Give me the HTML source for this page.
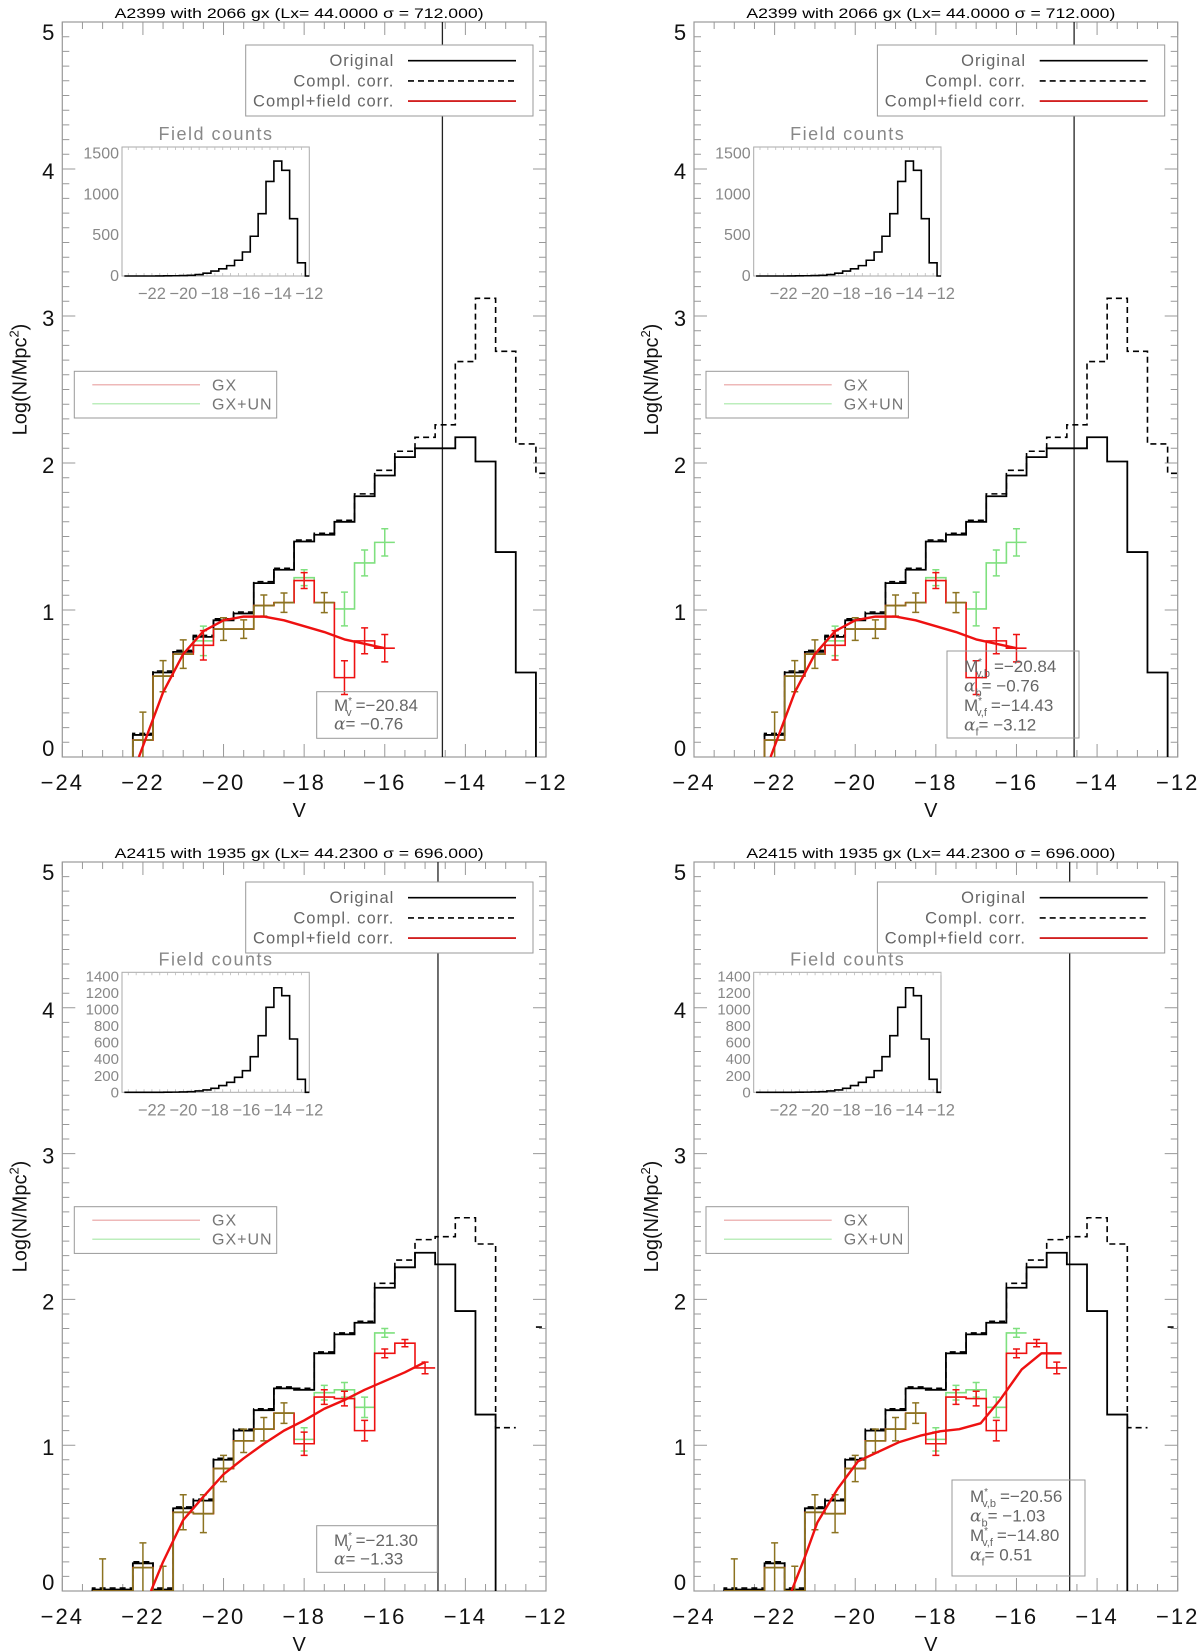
<!DOCTYPE html>
<html><head><meta charset="utf-8"><title>Luminosity functions A2399 / A2415</title>
<style>
html,body{margin:0;padding:0;background:#fff;}
svg{display:block;font-family:"Liberation Sans",sans-serif;}
</style></head>
<body>
<svg id="fig" width="1200" height="1652" viewBox="0 0 1200 1652" xmlns="http://www.w3.org/2000/svg">
<rect x="0" y="0" width="1200" height="1652" fill="#fff"/>
</svg>
<script>
// ---------- DATA ----------
// Top panels (A2399)
const topCenters = [-22,-21.5,-21,-20.5,-20,-19.5,-19,-18.5,-18,-17.5,-17,-16.5,-16,-15.5,-15,-14.5,-14,-13.5,-13,-12.5];
const topOriginal = [0.15,0.575,0.715,0.817,0.93,0.976,1.183,1.274,1.466,1.512,1.6,1.774,1.915,2.04,2.1,2.1,2.175,2.01,1.394,0.575];
const topDashCenters = [-22,-21.5,-21,-20.5,-20,-19.5,-19,-18.5,-18,-17.5,-17,-16.5,-16,-15.5,-15,-14.5,-14,-13.5,-13,-12.5,-12];
const topCompl = [0.16,0.585,0.725,0.827,0.94,0.986,1.193,1.284,1.476,1.522,1.61,1.79,1.95,2.08,2.175,2.26,2.69,3.12,2.76,2.13,1.93];
const topFieldCenters = [-22,-21.5,-21,-20.5,-20,-19.5,-19,-18.5,-18,-17.5,-17,-16.5,-16];
const topGX = [0.115,0.55,0.70,0.76,0.87,0.87,1.03,1.05,1.20,1.05,0.54,0.79,0.74];
const topGXUN = [0.115,0.55,0.70,0.79,0.87,0.87,1.03,1.05,1.22,1.05,1.007,1.32,1.46];
const topErr = [0.19,0.106,0.097,0.10,0.077,0.063,0.072,0.066,0.054,0.068,0.115,0.088,0.093];
const tlFitV = [-22.1,-21.5,-21,-20.5,-20,-19.5,-19,-18.5,-18,-17.5,-17,-16.5,-16];
const tlFitY = [0,0.44,0.70,0.856,0.93,0.955,0.955,0.93,0.89,0.85,0.80,0.77,0.74];
const trFitV = [-22.1,-21.5,-21,-20.5,-20,-19.5,-19,-18.5,-18,-17.5,-17,-16.5,-16];
const trFitY = [0,0.44,0.70,0.856,0.93,0.955,0.955,0.93,0.89,0.85,0.80,0.77,0.74];
// Bottom panels (A2415)
const botCenters = [-23,-22.5,-22,-21.5,-21,-20.5,-20,-19.5,-19,-18.5,-18,-17.5,-17,-16.5,-16,-15.5,-15,-14.5,-14,-13.5];
const botOriginal = [0.01,0.01,0.19,0.01,0.567,0.62,0.90,1.10,1.24,1.39,1.38,1.63,1.76,1.84,2.08,2.22,2.32,2.24,1.92,1.21];
const botDashCenters = [-23,-22.5,-22,-21.5,-21,-20.5,-20,-19.5,-19,-18.5,-18,-17.5,-17,-16.5,-16,-15.5,-15,-14.5,-14,-13.5,-13,-12.5,-12];
const botCompl = [0.02,0.02,0.20,0.02,0.577,0.63,0.91,1.11,1.25,1.40,1.39,1.64,1.77,1.85,2.11,2.27,2.41,2.43,2.56,2.38,1.12,null,1.81];
const botFieldCenters = [-23,-22.5,-22,-21.5,-21,-20.5,-20,-19.5,-19,-18.5,-18,-17.5,-17,-16.5,-16,-15.5,-15];
const botGX = [0,0,0.16,0,0.54,0.53,0.84,1.03,1.11,1.22,1.01,1.33,1.32,1.10,1.63,1.70,1.53];
const botGXUN = [0,0,0.16,0,0.54,0.53,0.84,1.03,1.11,1.22,1.04,1.36,1.38,1.26,1.77,null,null];
const botErr = [0.22,0.0,0.17,0.17,0.12,0.13,0.09,0.08,0.08,0.07,0.08,0.05,0.05,0.07,0.03,0.025,0.04];
const blFitV = [-21.8,-21.5,-21,-20.5,-20,-19.5,-19,-18.5,-18,-17.5,-17,-16.5,-16,-15.5,-15];
const blFitY = [0,0.2,0.487,0.647,0.80,0.91,1.01,1.10,1.17,1.25,1.31,1.38,1.44,1.50,1.57];
const brFitV = [-21.58,-21.24,-20.94,-20.44,-19.93,-19.44,-18.92,-18.39,-17.90,-17.42,-16.89,-16.41,-15.87,-15.38,-14.88];
const brFitY = [0,0.24,0.47,0.70,0.89,0.953,1.02,1.065,1.095,1.11,1.15,1.31,1.52,1.63,1.63];
// Field-count insets
const insetCenters = [-23.5,-23,-22.5,-22,-21.5,-21,-20.5,-20,-19.5,-19,-18.5,-18,-17.5,-17,-16.5,-16,-15.5,-15,-14.5,-14,-13.5,-13,-12.5,-12];
const topFieldCounts = [0,0,0,0,1,2,3,5,9,18,35,61,88,127,193,294,487,763,1158,1408,1294,702,162,0];
const botFieldCounts = [0,0,0,0,0,1,2,4,8,16,28,48,81,121,181,262,431,685,1028,1265,1169,645,157,0];
const topInsetTicks = [0,500,1000,1500];
const botInsetTicks = [0,200,400,600,800,1000,1200,1400];
const insetXTicks = [-22,-20,-18,-16,-14,-12];
const xTickLabels = [-24,-22,-20,-18,-16,-14,-12];
const yTickLabels = [0,1,2,3,4,5];

// ---------- DRAWING ----------
const NS = "http://www.w3.org/2000/svg";
const svg = document.getElementById('fig');
function mk(tag, attrs, parent){
  const e = document.createElementNS(NS, tag);
  for (const k in attrs) e.setAttribute(k, attrs[k]);
  (parent||svg).appendChild(e);
  return e;
}
const RED = "#ee1111", GREEN = "#7fe07f", BROWN = "#8c7321";
function isNum(v){ return v !== null && v !== undefined; }

function makeScales(p){
  p.sx = v => p.x0 + (v + 24) / 12 * (p.x1 - p.x0);
  p.sy = y => p.yB - y / 5 * (p.yB - p.yT);
}
function stepD(p, centers, vals, startZero, endZero){
  let d = '', pen = false, lastR = null;
  for (let i = 0; i < centers.length; i++){
    const v = vals[i];
    const L = centers[i] - 0.25, R = centers[i] + 0.25;
    if (!isNum(v)){ pen = false; continue; }
    if (!pen){
      if (i === 0 && startZero) d += `M${p.sx(L)},${p.sy(0)}L${p.sx(L)},${p.sy(v)}`;
      else d += `M${p.sx(L)},${p.sy(v)}`;
      pen = true;
    } else d += `L${p.sx(L)},${p.sy(v)}`;
    d += `L${p.sx(R)},${p.sy(v)}`;
    lastR = R;
  }
  if (endZero && lastR !== null) d += `L${p.sx(lastR)},${p.sy(0)}`;
  return d;
}
function txt(parent, x, y, s, size, fill, anchor, name){
  const t = mk('text', {x:x, y:y, 'font-size':size, fill:fill, 'text-anchor':anchor||'start'}, parent);
  
  
  t.textContent = s;
  return t;
}
function fmt(n){ return n < 0 ? '\u2212' + Math.abs(n) : String(n); }
function sameAt(p, i){ return isNum(p.gx[i]) && isNum(p.gxun[i]) && Math.abs(p.gx[i] - p.gxun[i]) <= 0.004; }

function drawPanel(p){
  makeScales(p);
  const g = mk('g', {});
  
  
  const clipId = 'clip-' + p.name;
  const cp = mk('clipPath', {id: clipId}, g);
  mk('rect', {x:p.x0, y:p.yT, width:p.x1-p.x0, height:p.yB-p.yT}, cp);

  const tt = txt(g, (p.x0+p.x1)/2 - 5, p.titleY, p.title, 13.5, '#000', 'middle', 'panel-title');
  tt.setAttribute('textLength', 369);
  tt.setAttribute('lengthAdjust', 'spacingAndGlyphs');

  const fr = mk('rect', {x:p.x0, y:p.yT, width:p.x1-p.x0, height:p.yB-p.yT, fill:'none', stroke:'#999', 'stroke-width':1.2}, g);
  
  

  let td = '';
  for (let v = -24; v <= -12.001 + 0.5; v += 0.5){
    const major = Math.abs(v/2 - Math.round(v/2)) < 1e-6;
    const len = major ? 13 : 7;
    const x = p.sx(v);
    td += `M${x},${p.yB}L${x},${p.yB-len}M${x},${p.yT}L${x},${p.yT+len}`;
  }
  for (let k = 0; k <= 50; k++){
    const y = p.sy(k/10);
    const len = (k % 10 === 0) ? 13 : 7;
    td += `M${p.x0},${y}L${p.x0+len},${y}M${p.x1},${y}L${p.x1-len},${y}`;
  }
  const ticks = mk('path', {d:td, stroke:'#999', 'stroke-width':1, fill:'none'}, g);
  
  

  xTickLabels.forEach(v => {
    const t = txt(g, p.sx(v), p.yB + 33, fmt(v), 22, '#111', 'middle', 'x-tick-label');
    t.setAttribute('letter-spacing', '2');
  });
  yTickLabels.forEach(v => {
    const y = p.sy(v);
    const base = v === 0 ? y - 1 : (v === 5 ? y + 18 : y + 10);
    txt(g, p.x0 - 14, base, String(v), 22, '#111', 'middle', 'y-tick-label');
  });
  txt(g, (p.x0+p.x1)/2 - 5, p.yB + 60, 'V', 20, '#111', 'middle', 'x-axis-title');
  const yl = mk('text', {x:0, y:0, 'font-size':20, fill:'#111', 'text-anchor':'middle', transform:`translate(${p.x0-36},${(p.yT+p.yB)/2 - 10}) rotate(-90)`}, g);
  
  
  yl.innerHTML = 'Log(N/Mpc<tspan dy="-8" font-size="13">2</tspan><tspan dy="8">)</tspan>';

  const pg = mk('g', {'clip-path': `url(#${clipId})`}, g);
  
  

  const vl = mk('line', {x1:p.sx(p.vline), x2:p.sx(p.vline), y1:p.yT, y2:p.yB, stroke:'#222', 'stroke-width':1.3}, pg);
  
  

  const orig = mk('path', {d:stepD(p, p.centers, p.original, true, true), stroke:'#000', 'stroke-width':1.8, fill:'none'}, pg);
  
  
  const dsh = mk('path', {d:stepD(p, p.dashCenters, p.compl, true, false), stroke:'#000', 'stroke-width':1.6, fill:'none', 'stroke-dasharray':'6,4'}, pg);
  
  

  const gp = mk('path', {d:stepD(p, p.fCenters, p.gxun, true, false), stroke:GREEN, 'stroke-width':1.6, fill:'none'}, pg);
  
  
  const rp = mk('path', {d:stepD(p, p.fCenters, p.gx, true, false), stroke:RED, 'stroke-width':1.6, fill:'none'}, pg);
  
  
  let bd = '';
  for (let i = 0; i < p.fCenters.length; i++){
    if (!sameAt(p, i)) continue;
    const L = p.fCenters[i] - 0.25, R = p.fCenters[i] + 0.25, v = p.gx[i];
    bd += `M${p.sx(L)},${p.sy(v)}L${p.sx(R)},${p.sy(v)}`;
    const prev = i === 0 ? 0 : (sameAt(p, i-1) ? p.gx[i-1] : null);
    if (prev !== null) bd += `M${p.sx(L)},${p.sy(prev)}L${p.sx(L)},${p.sy(v)}`;
  }
  const bp = mk('path', {d:bd, stroke:BROWN, 'stroke-width':1.7, fill:'none'}, pg);
  
  

  for (let i = 0; i < p.fCenters.length; i++){
    const same = sameAt(p, i);
    const sets = same ? [[p.gx[i], BROWN]] : [[p.gxun[i], GREEN], [p.gx[i], RED]];
    sets.forEach(([v, col]) => {
      const e = p.err[i];
      if (!isNum(v) || e <= 0) return;
      const x = p.sx(p.fCenters[i]);
      const y1 = p.sy(v + e), y2 = p.sy(Math.max(v - e, -0.1));
      const eb = mk('path', {d:`M${x},${y1}L${x},${y2}M${x-3.5},${y1}L${x+3.5},${y1}M${x-3.5},${y2}L${x+3.5},${y2}`, stroke:col, 'stroke-width':1.5, fill:'none'}, pg);
      
      
    });
  }

  const fitPts = p.fitV.map((v, i) => `${p.sx(v)},${p.sy(p.fitY[i])}`).join(' ');
  const fit = mk('polyline', {points:fitPts, stroke:RED, 'stroke-width':2.4, fill:'none', 'stroke-linejoin':'round'}, pg);
  
  

  const lg = mk('g', {}, g);
  
  
  const lx = p.x0 + 183.4, ly = p.yT + p.leg1dy;
  mk('rect', {x:lx, y:ly, width:287.3, height:71, fill:'#fff', stroke:'#999', 'stroke-width':1}, lg);
  const entries = [['Original','#000',null],['Compl. corr.','#000','6,4'],['Compl+field corr.','#cc0000',null]];
  entries.forEach((en, k) => {
    const yy = ly + 15.7 + k * 20.2;
    txt(lg, lx + 148.6, yy + 5.5, en[0], 16.5, '#666', 'end', 'legend-entry-label').setAttribute('letter-spacing','1');
    const ln = mk('line', {x1:lx+162.3, x2:lx+270.3, y1:yy, y2:yy, stroke:en[1], 'stroke-width':1.6}, lg);
    if (en[2]) ln.setAttribute('stroke-dasharray', en[2]);
    
    
  });

  const l2 = mk('g', {}, g);
  
  
  const l2x = p.x0 + 12, l2y = p.yT + p.leg2dy;
  mk('rect', {x:l2x, y:l2y, width:202.4, height:46.7, fill:'#fff', stroke:'#999', 'stroke-width':1}, l2);
  [['GX','#e8a0a0'],['GX+UN','#a6e8a6']].forEach((en, k) => {
    const yy = l2y + 13.5 + k * 19;
    const ln = mk('line', {x1:l2x+18, x2:l2x+125.7, y1:yy, y2:yy, stroke:en[1], 'stroke-width':1.2}, l2);
    
    
    txt(l2, l2x + 137.7, yy + 5.5, en[0], 16, '#777', 'start', 'legend-entry-label').setAttribute('letter-spacing','1');
  });

  const ig = mk('g', {}, g);
  
  
  const ix0 = p.x0 + 59.7, iw = 187.3, iy0 = p.yT + p.insDy, ih = p.insH;
  const ixs = v => ix0 + (v + 23.9) / 11.9 * iw;
  const iys = c => iy0 + ih - c / p.insMax * ih;
  txt(ig, ix0 + 94, iy0 - 7, 'Field counts', 18, '#888', 'middle', 'inset-title').setAttribute('letter-spacing','1.5');
  mk('rect', {x:ix0, y:iy0, width:iw, height:ih, fill:'#fff', stroke:'#aaa', 'stroke-width':1}, ig);
  let itd = '';
  for (let v = -23.5; v <= -12; v += 0.5){ const x = ixs(v); itd += `M${x},${iy0+ih}L${x},${iy0+ih-3}M${x},${iy0}L${x},${iy0+3}`; }
  const itk = mk('path', {d:itd, stroke:'#bbb', 'stroke-width':0.8}, ig);
  
  
  p.insTicks.forEach(c => {
    txt(ig, ix0 - 3, iys(c) + 5, String(c), p.insTickSize, '#888', 'end', 'inset-y-tick-label');
  });
  insetXTicks.forEach(v => {
    txt(ig, ixs(v), iy0 + ih + 23, fmt(v), 16.5, '#888', 'middle', 'inset-x-tick-label');
  });
  let hd = '';
  insetCenters.forEach((c, i) => {
    const L = ixs(c - 0.25), R = ixs(Math.min(c + 0.25, -12)), y = iys(p.insCounts[i]);
    hd += (i === 0 ? `M${L},${y}` : `L${L},${y}`) + `L${R},${y}`;
  });
  const hist = mk('path', {d:hd, stroke:'#000', 'stroke-width':1.6, fill:'none'}, ig);
  
  

  const sg = mk('g', {}, g);
  
  
  mk('rect', {x:p.stat.x, y:p.stat.y, width:p.stat.w, height:p.stat.h, fill:'none', stroke:'#999', 'stroke-width':1}, sg);
  p.stat.lines.forEach((html, k) => {
    const t = mk('text', {x:p.stat.tx, y:p.stat.y0 + k * p.stat.dy, 'font-size':17, fill:'#666', 'xml:space':'preserve'}, sg);
    
    
    t.innerHTML = html;
  });
}

const MV = sub => `M<tspan dy="-7" font-size="10">*</tspan><tspan dy="12" dx="-6" font-size="11">${sub}</tspan><tspan dy="-5" dx="4">=</tspan>`;
const AL = sub => `<tspan font-family="DejaVu Serif, serif" font-style="italic">α</tspan>` + (sub ? `<tspan dy="5" font-size="11">${sub}</tspan><tspan dy="-5">=</tspan>` : '<tspan>=</tspan>');

const panels = [
  {name:'panel-a2399-single', x0:62.3, x1:546, yT:22, yB:757, titleY:18,
   title:'A2399   with  2066 gx (Lx= 44.0000 \u03c3 = 712.000)', vline:-14.57,
   centers:topCenters, original:topOriginal, dashCenters:topDashCenters, compl:topCompl,
   fCenters:topFieldCenters, gx:topGX, gxun:topGXUN, err:topErr, fitV:tlFitV, fitY:tlFitY,
   leg1dy:23, leg2dy:349.3, insDy:125, insH:129, insMax:1580, insTicks:topInsetTicks, insTickSize:16, insCounts:topFieldCounts,
   stat:{x:316.7, y:691.7, w:120.6, h:46.6, tx:334, y0:711, dy:18.5,
     lines:[MV('v')+'\u221220.84', AL('')+'  \u22120.76']}},
  {name:'panel-a2399-double', x0:694, x1:1177.7, yT:22, yB:757, titleY:18,
   title:'A2399   with  2066 gx (Lx= 44.0000 \u03c3 = 712.000)', vline:-14.57,
   centers:topCenters, original:topOriginal, dashCenters:topDashCenters, compl:topCompl,
   fCenters:topFieldCenters, gx:topGX, gxun:topGXUN, err:topErr, fitV:trFitV, fitY:trFitY,
   leg1dy:23, leg2dy:349.3, insDy:125, insH:129, insMax:1580, insTicks:topInsetTicks, insTickSize:16, insCounts:topFieldCounts,
   stat:{x:947, y:651, w:132, h:87, tx:964, y0:672, dy:19.5,
     lines:[MV('v,b')+'\u221220.84', AL('b')+'  \u22120.76', MV('v,f')+'\u221214.43', AL('f')+'  \u22123.12']}},
  {name:'panel-a2415-single', x0:62.3, x1:546, yT:862, yB:1591, titleY:858,
   title:'A2415   with  1935 gx (Lx= 44.2300 \u03c3 = 696.000)', vline:-14.68,
   centers:botCenters, original:botOriginal, dashCenters:botDashCenters, compl:botCompl,
   fCenters:botFieldCenters, gx:botGX, gxun:botGXUN, err:botErr, fitV:blFitV, fitY:blFitY,
   leg1dy:20, leg2dy:344.7, insDy:110.3, insH:120, insMax:1452, insTicks:botInsetTicks, insTickSize:15, insCounts:botFieldCounts,
   stat:{x:316.7, y:1525.7, w:120.6, h:46.6, tx:334, y0:1546, dy:18.5,
     lines:[MV('v')+'\u221221.30', AL('')+'  \u22121.33']}},
  {name:'panel-a2415-double', x0:694, x1:1177.7, yT:862, yB:1591, titleY:858,
   title:'A2415   with  1935 gx (Lx= 44.2300 \u03c3 = 696.000)', vline:-14.68,
   centers:botCenters, original:botOriginal, dashCenters:botDashCenters, compl:botCompl,
   fCenters:botFieldCenters, gx:botGX, gxun:botGXUN, err:botErr, fitV:brFitV, fitY:brFitY,
   leg1dy:20, leg2dy:344.7, insDy:110.3, insH:120, insMax:1452, insTicks:botInsetTicks, insTickSize:15, insCounts:botFieldCounts,
   stat:{x:952, y:1480, w:133, h:96, tx:970, y0:1502, dy:19.5,
     lines:[MV('v,b')+'\u221220.56', AL('b')+'  \u22121.03', MV('v,f')+'\u221214.80', AL('f')+'  0.51']}}
];
panels.forEach(drawPanel);
</script>
</body></html>
